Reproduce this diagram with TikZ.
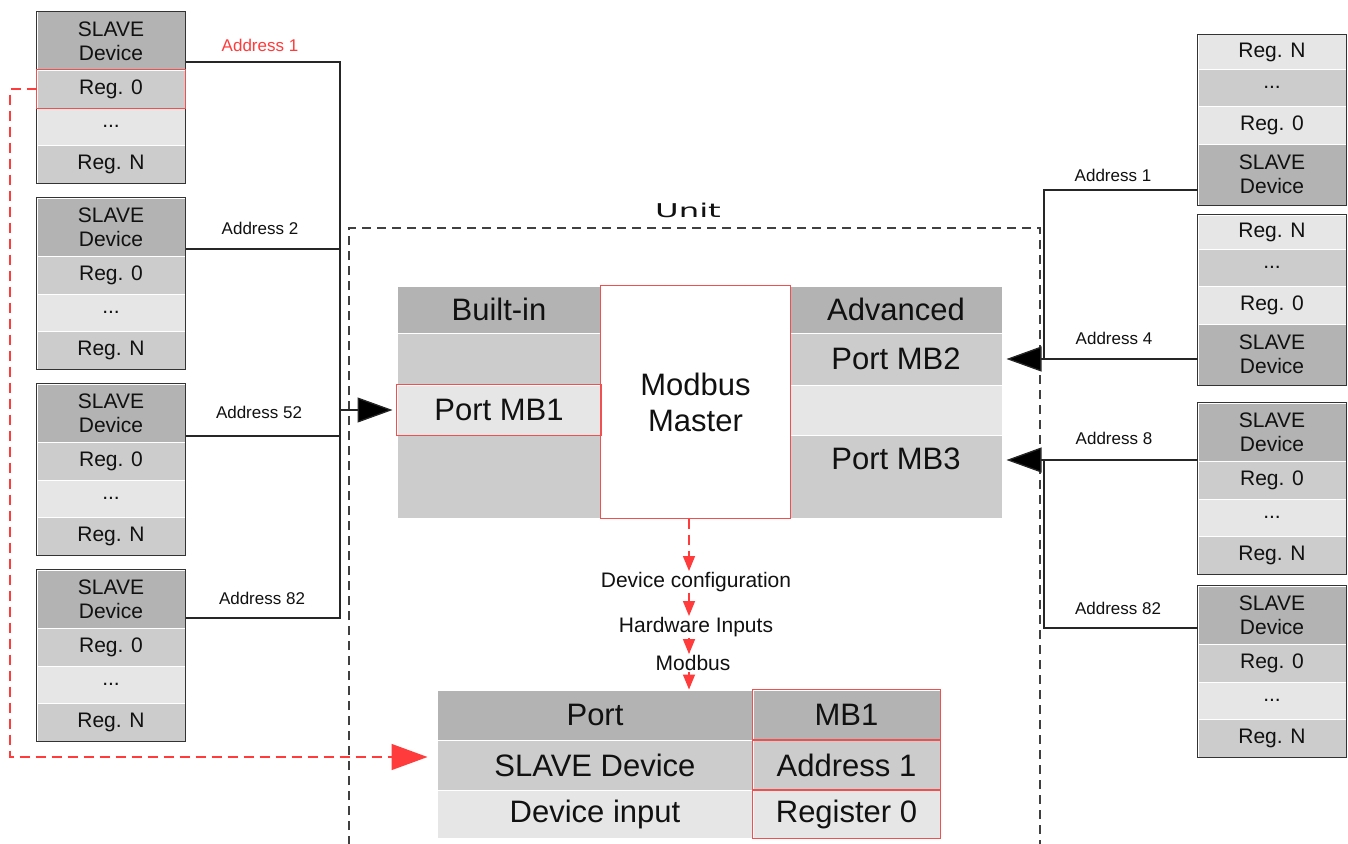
\documentclass[tikz,border=0pt]{standalone}
\usepackage{fontspec}
\setmainfont{Liberation Sans}
\newfontfamily\unitfont{DejaVu Sans}
\usetikzlibrary{arrows.meta}
\definecolor{cdark}{HTML}{B3B3B3}
\definecolor{cmid}{HTML}{CCCCCC}
\definecolor{clight}{HTML}{E6E6E6}
\definecolor{cred}{HTML}{F05050}
\definecolor{cbright}{HTML}{FF3B3B}
\definecolor{cborder}{HTML}{333333}
\definecolor{cdash}{HTML}{404040}
\definecolor{ctext}{HTML}{111111}
\tikzset{
  cell/.style={draw=white, line width=1pt, inner sep=0pt, align=center,
    font=\fontsize{21}{24}\selectfont, text=ctext},
  bigcell/.style={cell, font=\fontsize{31}{36}\selectfont},
  redline/.style={draw=cred, line width=1.8pt},
  addr/.style={font=\fontsize{17}{20}\selectfont, inner sep=1pt, text=ctext},
  flow/.style={font=\fontsize{21}{24}\selectfont, inner sep=1pt, text=ctext},
  wire/.style={draw=black!85, line width=1.3pt},
  blackarrow/.style={wire, shorten >=4pt, -{Triangle[length=35pt,width=25pt,fill=black]}},
  redflow/.style={draw=cbright, line width=1.4pt, dash pattern=on 10pt off 6pt,
    -{Triangle[length=15pt,width=12pt]}},
  redback/.style={draw=cbright, line width=1.4pt, dash pattern=on 10pt off 6pt,
    shorten >=9pt, -{Triangle[length=36pt,width=26pt]}},
  unitbox/.style={draw=cdash, line width=1.3pt, dash pattern=on 9pt off 6pt},
  outline/.style={draw=cborder, line width=1.5pt},
}
% slave block: header on top
\newcommand\slaveTop[3]{%
  \node[cell,fill=cdark,minimum width=148,minimum height=58] (#1h) at (#2,#3+29) {SLAVE\\Device};
  \node[cell,fill=cmid,minimum width=148,minimum height=38] (#1a) at (#2,#3+77) {Reg. 0};
  \node[cell,fill=clight,minimum width=148,minimum height=37] (#1d) at (#2,#3+114.5) {...};
  \node[cell,fill=cmid,minimum width=148,minimum height=38] (#1n) at (#2,#3+152) {Reg. N};
  \draw[outline] (#1h.north west) rectangle (#1n.south east);
}
% slave block: header at bottom
\newcommand\slaveBottom[3]{%
  \node[cell,fill=clight,minimum width=148,minimum height=34] (#1n) at (#2,#3+17) {Reg. N};
  \node[cell,fill=cmid,minimum width=148,minimum height=37] (#1d) at (#2,#3+52.5) {...};
  \node[cell,fill=clight,minimum width=148,minimum height=38] (#1a) at (#2,#3+90) {Reg. 0};
  \node[cell,fill=cdark,minimum width=148,minimum height=61] (#1h) at (#2,#3+139.5) {SLAVE\\Device};
  \draw[outline] (#1n.north west) rectangle (#1h.south east);
}
\begin{document}
\begin{tikzpicture}[x=1pt,y=-1pt]
\useasboundingbox[fill=white] (0,0) rectangle (1348,843);

% ---------- Unit box ----------
\coordinate (u1) at (349,860);
\coordinate (u2) at (349,228);
\coordinate (u3) at (1040,228);
\coordinate (u4) at (1040,860);
\draw[unitbox] (u1) -- (u2) -- (u3) -- (u4);
\node[text=ctext, inner sep=0pt] (unit) at (688,210) {\unitfont\fontsize{19}{22}\selectfont\scalebox{1.7}[1]{Unit}};

% ---------- left slaves ----------
\slaveTop{L1}{111}{12}
\slaveTop{L2}{111}{198}
\slaveTop{L3}{111}{384}
\slaveTop{L4}{111}{570}

% ---------- right slaves ----------
\slaveBottom{R1}{1272}{35}
\slaveBottom{R2}{1272}{215}
\slaveTop{R3}{1272}{403}
\slaveTop{R4}{1272}{586}

% ---------- centre block ----------
\node[bigcell,fill=cdark,minimum width=204,minimum height=47] (bi) at (499,309.5) {Built-in};
\node[bigcell,fill=cmid,minimum width=204,minimum height=52] (bl2) at (499,359) {};
\node[bigcell,fill=cmid,minimum width=204,minimum height=83] (bl4) at (499,476.5) {};
\node[bigcell,fill=clight,minimum width=204,minimum height=50] (pmb1) at (499,410) {Port MB1};

\node[bigcell,fill=cdark,minimum width=212,minimum height=47] (adv) at (896,309.5) {Advanced};
\node[bigcell,fill=cmid,minimum width=212,minimum height=52] (pmb2) at (896,359) {Port MB2};
\node[bigcell,fill=clight,minimum width=212,minimum height=50] (br3) at (896,410) {};
\node[bigcell,fill=cmid,minimum width=212,minimum height=83] (pmb3) at (896,476.5) {};
\node[font=\fontsize{31}{36}\selectfont, text=ctext, inner sep=0pt] (pmb3t) at (896,459) {Port MB3};

\node[bigcell,fill=white,minimum width=189,minimum height=232] (mm) at (695.5,402) {Modbus\\Master};

% ---------- bottom table ----------
\node[bigcell,fill=cdark,minimum width=316,minimum height=50] (tport) at (595,715) {Port};
\node[bigcell,fill=cmid,minimum width=316,minimum height=50] (tsd) at (595,765) {SLAVE Device};
\node[bigcell,fill=clight,minimum width=316,minimum height=48] (tdi) at (595,814) {Device input};
\node[bigcell,fill=cdark,minimum width=187,minimum height=50] (tmb1) at (846.5,715) {MB1};
\node[bigcell,fill=cmid,minimum width=187,minimum height=50] (ta1) at (846.5,765) {Address 1};
\node[bigcell,fill=clight,minimum width=187,minimum height=48] (tr0) at (846.5,814) {Register 0};

% ---------- red outlines (drawn last so nothing covers them) ----------
\draw[redline] (L1a.north west) rectangle (L1a.south east);
\draw[redline] (pmb1.north west) rectangle (pmb1.south east);
\draw[redline] (mm.north west) rectangle (mm.south east);
\draw[redline] (tmb1.north west) rectangle (tmb1.south east);
\draw[redline] (ta1.north west) rectangle (ta1.south east);
\draw[redline] (tr0.north west) rectangle (tr0.south east);

% ---------- left bus ----------
\coordinate (bL1) at (340,62);
\coordinate (bL2) at (340,249);
\coordinate (bL3) at (340,436);
\coordinate (bL4) at (340,618);
\draw[wire] (L1h.east |- bL1) -- (bL1) -- (bL4) -- (L4h.east |- bL4);
\draw[wire] (L2h.east |- bL2) -- (bL2);
\draw[wire] (L3h.east |- bL3) -- (bL3);
\draw[blackarrow] (pmb1.west -| bL1) -- (pmb1.west);

\node[addr, text=cbright] (aL1) at (260,45) {Address 1};
\node[addr] (aL2) at (260,228) {Address 2};
\node[addr] (aL3) at (259,412) {Address 52};
\node[addr] (aL4) at (262,598) {Address 82};

% ---------- right bus ----------
\coordinate (bR1) at (1044,190);
\coordinate (bR2) at (1044,359);
\coordinate (bR3) at (1044,460);
\coordinate (bR4) at (1044,628);
\draw[wire] (R1h.west |- bR1) -- (bR1) -- (bR2);
\draw[blackarrow] (R2h.west |- bR2) -- (pmb2.east |- bR2);
\draw[blackarrow] (R3h.west |- bR3) -- (pmb3.east |- bR3);
\draw[wire] (bR3) -- (bR4) -- (R4h.west |- bR4);

\node[addr] (aR1) at (1113,175) {Address 1};
\node[addr] (aR2) at (1114,338) {Address 4};
\node[addr] (aR3) at (1114,438) {Address 8};
\node[addr] (aR4) at (1118,608) {Address 82};

% ---------- flow in the middle ----------
\coordinate (fx) at (689,0);
\node[flow] (dc) at (696,582) {Device configuration};
\node[flow] (hw) at (696,627) {Hardware Inputs};
\node[flow] (mbl) at (693,663) {Modbus};
\draw[redflow] (mm.south -| fx) -- (dc.north -| fx);
\draw[redflow] (dc.south -| fx) -- (hw.north -| fx);
\draw[redflow] (hw.south -| fx) -- (mbl.north -| fx);
\draw[redflow] (mbl.south -| fx) -- (tport.north -| fx);

% ---------- red dashed return path ----------
\coordinate (rl1) at (10,89);
\coordinate (rl2) at (10,757);
\draw[redback] (L1a.west) -- (rl1) -- (rl2) -- (tsd.west |- rl2);
\end{tikzpicture}
\end{document}
